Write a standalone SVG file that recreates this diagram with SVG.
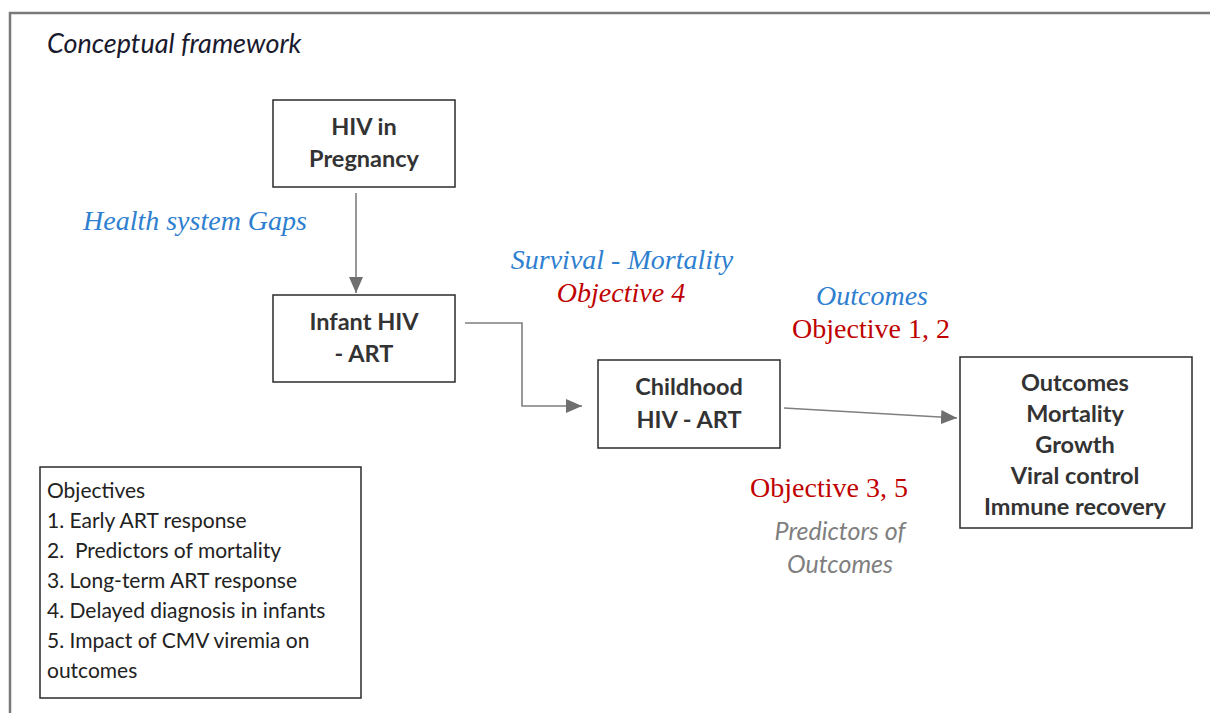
<svg xmlns="http://www.w3.org/2000/svg" width="1210" height="713" viewBox="0 0 1210 713">
<defs>
<style>
.box{fill:#fff;stroke:#2b2b2b;stroke-width:1.5}
.bt{font-family:Lato,"Open Sans",sans-serif;font-weight:bold;font-size:23.5px;fill:#333;text-anchor:middle}
.blue{font-family:"Liberation Serif",serif;font-style:italic;font-size:28px;fill:#2f7fd0}
.red{font-family:"Liberation Serif",serif;font-size:28px;fill:#c00000}
.redi{font-family:"Liberation Serif",serif;font-style:italic;font-size:28px;fill:#c00000}
.gray{font-family:Lato,"Open Sans",sans-serif;font-style:italic;font-size:25px;fill:#7f7f7f;text-anchor:middle}
.obj{font-family:Lato,"Open Sans",sans-serif;font-size:21px;fill:#222}
.conn{fill:none;stroke:#7f7f7f;stroke-width:1.6}
</style>
<marker id="arrL" viewBox="0 0 16 16" refX="16" refY="8" markerWidth="16" markerHeight="16" markerUnits="userSpaceOnUse" orient="auto">
<path d="M0,1 L16,8 L0,15 z" fill="#6f6f6f"/>
</marker>
</defs>
<rect width="1210" height="713" fill="#fff"/>
<path d="M10,713 V13 H1210" fill="none" stroke="#7a7a7a" stroke-width="2.5"/>
<text x="47" y="53" font-family="Lato, Open Sans, sans-serif" font-style="italic" font-size="27" fill="#1a1a2e">Conceptual framework</text>

<g id="connectors">
<line class="conn" x1="356" y1="193" x2="356" y2="293" marker-end="url(#arrL)"/>
<polyline class="conn" points="465,323 522,323 522,406 582,406" marker-end="url(#arrL)"/>
<line class="conn" x1="784" y1="408" x2="957" y2="418" marker-end="url(#arrL)"/>
</g>

<g id="node-pregnancy">
<rect class="box" x="273" y="100" width="182" height="87"/>
<text class="bt" x="364" y="135">HIV in</text>
<text class="bt" x="364" y="167">Pregnancy</text>
</g>
<g id="node-infant">
<rect class="box" x="273" y="295" width="182" height="87"/>
<text class="bt" x="364" y="330">Infant HIV</text>
<text class="bt" x="364" y="362">- ART</text>
</g>
<g id="node-childhood">
<rect class="box" x="598" y="360" width="182" height="88"/>
<text class="bt" x="689" y="395">Childhood</text>
<text class="bt" x="689" y="428">HIV - ART</text>
</g>
<g id="node-outcomes">
<rect class="box" x="960" y="357" width="232" height="171"/>
<text class="bt" x="1075" y="391">Outcomes</text>
<text class="bt" x="1075" y="422">Mortality</text>
<text class="bt" x="1075" y="453">Growth</text>
<text class="bt" x="1075" y="484">Viral control</text>
<text class="bt" x="1075" y="515">Immune recovery</text>
</g>
<g id="node-objectives">
<rect class="box" x="40" y="467" width="321" height="231"/>
<text class="obj" x="47" y="498">Objectives</text>
<text class="obj" x="47" y="528">1. Early ART response</text>
<text class="obj" x="47" y="558" xml:space="preserve">2.  Predictors of mortality</text>
<text class="obj" x="47" y="588">3. Long-term ART response</text>
<text class="obj" x="47" y="618">4. Delayed diagnosis in infants</text>
<text class="obj" x="47" y="648">5. Impact of CMV viremia on</text>
<text class="obj" x="47" y="678">outcomes</text>
</g>

<g id="labels">
<text class="blue" x="83" y="230">Health system Gaps</text>
<text class="blue" x="622" y="269" text-anchor="middle">Survival - Mortality</text>
<text class="redi" x="621" y="302" text-anchor="middle">Objective 4</text>
<text class="blue" x="872" y="305" text-anchor="middle">Outcomes</text>
<text class="red" x="871" y="338" text-anchor="middle">Objective 1, 2</text>
<text class="red" x="829" y="497" text-anchor="middle">Objective 3, 5</text>
<text class="gray" x="840" y="540">Predictors of</text>
<text class="gray" x="840" y="573">Outcomes</text>
</g>
</svg>
